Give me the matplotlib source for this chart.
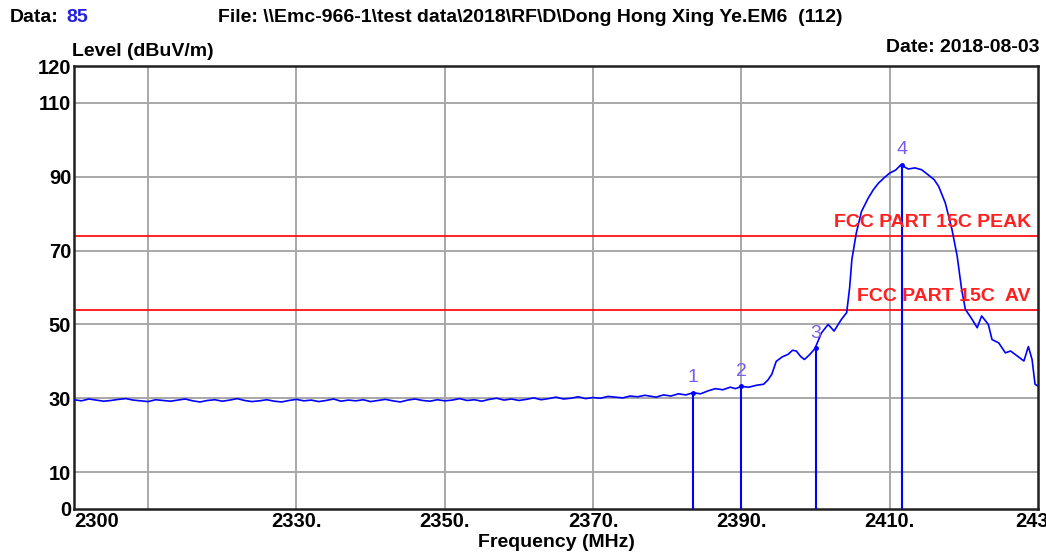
import numpy as np
import matplotlib
matplotlib.use("Agg")
import matplotlib.pyplot as plt

# ---------------- data ----------------
noise_freq = list(range(2300, 2378))
noise_level = [
    29.6, 29.3, 29.8, 29.5, 29.2, 29.4, 29.7, 29.9, 29.5, 29.3,
    29.1, 29.6, 29.4, 29.2, 29.5, 29.8, 29.3, 29.0, 29.4, 29.6,
    29.2, 29.5, 29.9, 29.4, 29.1, 29.3, 29.6, 29.2, 29.0, 29.4,
    29.7, 29.3, 29.5, 29.1, 29.4, 29.8, 29.2, 29.5, 29.3, 29.6,
    29.1, 29.4, 29.7, 29.3, 29.0, 29.5, 29.8, 29.4, 29.2, 29.6,
    29.3, 29.5, 29.9, 29.4, 29.6, 29.2, 29.7, 30.0, 29.5, 29.8,
    29.4, 29.7, 30.1, 29.6, 29.9, 30.3, 29.8, 30.0, 30.4, 29.9,
    30.2, 30.0, 30.5, 30.3, 30.1, 30.6, 30.4, 30.8,
]
signal_freq = [
    2378.5, 2379.5, 2380.5, 2381.5, 2382.5, 2383.5, 2384.5, 2385.5,
    2386.5, 2387.5, 2388.5, 2389.2, 2390.0, 2391.0, 2392.0, 2393.0,
    2393.6, 2394.1, 2394.7, 2395.5, 2396.3, 2396.9, 2397.4, 2398.0,
    2398.5, 2399.2, 2399.9, 2400.8, 2401.7, 2402.5, 2403.5, 2404.2,
    2404.6, 2404.9, 2405.5, 2406.2, 2407.1, 2407.8, 2408.5, 2409.3,
    2410.0, 2410.8, 2411.5, 2412.5, 2413.4, 2414.3, 2415.2, 2416.0,
    2416.6, 2417.5, 2418.4, 2419.1, 2419.7, 2420.2, 2421.1, 2421.8,
    2422.4, 2423.3, 2423.8, 2424.7, 2425.6, 2426.3, 2426.9, 2428.1,
    2428.7, 2429.2, 2429.6, 2430.0,
]
signal_level = [
    30.3, 30.9, 30.6, 31.2, 30.9, 31.5, 31.2, 32.0,
    32.6, 32.3, 33.0, 32.6, 33.2, 33.0, 33.5, 33.8,
    35.0, 36.5, 40.0, 41.2, 41.9, 43.0, 42.8, 41.3,
    40.5, 41.8, 43.4, 47.7, 50.0, 48.2, 51.4, 53.2,
    60.0, 67.6, 74.8, 80.6, 84.2, 86.5, 88.3, 89.8,
    91.0, 91.8, 93.2, 92.1, 92.4, 91.9, 90.5, 89.2,
    87.4, 82.9, 75.7, 68.5, 59.5, 54.1, 51.4, 49.1,
    52.3, 50.0, 45.9, 45.0, 42.3, 42.8, 41.9, 40.1,
    44.0, 40.5, 33.8, 33.3,
]
marker_ids = ["1", "2", "3", "4"]
marker_freq = [2383.5, 2390.0, 2400.0, 2411.6]
marker_level = [31.5, 33.2, 43.5, 93.2]

limit_names = ["FCC PART 15C PEAK", "FCC PART 15C  AV"]
limit_levels = [74, 54]

x_ticks = [2300, 2330, 2350, 2370, 2390, 2410, 2430]
x_tick_labels = ["2300", "2330.", "2350.", "2370.", "2390.", "2410.", "2430"]
x_grid = [2310, 2330, 2350, 2370, 2390, 2410]
y_ticks = [0, 10, 30, 50, 70, 90, 110, 120]
y_grid = [10, 30, 50, 70, 90, 110]

# ---------------- figure ----------------
plt.rcParams['font.family'] = ['Liberation Sans', 'DejaVu Sans']
W, H = 1046, 560
fig = plt.figure(figsize=(W / 100, H / 100), dpi=100)
ax = fig.add_axes([74 / W, 1 - 509 / H, (1038 - 74) / W, (509 - 66) / H])

freq = np.array(noise_freq + signal_freq, dtype=float)
level = np.array(noise_level + signal_level, dtype=float)

ax.set_xlim(2300, 2430)
ax.set_ylim(0, 120)

for g in x_grid:
    ax.axvline(g, color='#a8a8a8', lw=1.4, zorder=1)
for g in y_grid:
    ax.axhline(g, color='#a8a8a8', lw=1.4, zorder=1)

for name, lv in zip(limit_names, limit_levels):
    ax.axhline(lv, color='#ff1010', lw=1.3, zorder=2)
    ax.text(2429.05, lv + 1.3, name, color='#ff2020', fontsize=14,
            fontweight='bold', ha='right', va='bottom', zorder=4)

ax.plot(freq, level, color='#0000ff', lw=1.2, zorder=3)

for mid, mf, ml in zip(marker_ids, marker_freq, marker_level):
    ax.plot([mf, mf], [0, ml], color='#0000ff', lw=1.5, zorder=3)
    ax.plot([mf], [ml], marker='o', ms=2.5, color='#0000ff', zorder=3)
    ax.text(mf, ml + 1.8, mid, color='#7a5cf0', fontsize=14,
            ha='center', va='bottom', zorder=4)

ax.set_xticks(x_ticks)
ax.set_xticklabels(x_tick_labels, fontsize=14.5, fontweight='bold')
ax.set_yticks(y_ticks)
ax.set_yticklabels([str(v) for v in y_ticks], fontsize=14.5, fontweight='bold')
ax.tick_params(axis='both', length=0)
ax.tick_params(axis='x', pad=2)
ax.tick_params(axis='y', pad=2)
xl = ax.get_xticklabels()
xl[0].set_horizontalalignment('left')

for s in ax.spines.values():
    s.set_color('#202020')
    s.set_linewidth(1.8)

ax.set_xlabel("Frequency (MHz)", fontsize=14, fontweight='bold', labelpad=2)

# header texts
def ftext(x, y, s, **kw):
    fig.text(x / W, 1 - y / H, s, **kw)

ftext(10, 17, "Data:", fontsize=14, fontweight='bold', va='center', ha='left')
ftext(66, 17, "85", fontsize=14, fontweight='bold', va='center', ha='left', color='#2020e0')
ftext(218, 17, "File: \\\\Emc-966-1\\test data\\2018\\RF\\D\\Dong Hong Xing Ye.EM6  (112)",
      fontsize=14, fontweight='bold', va='center', ha='left')
ftext(72, 51, "Level (dBuV/m)", fontsize=14, fontweight='bold', va='center', ha='left')
ftext(1040, 48, "Date: 2018-08-03", fontsize=14, fontweight='bold', va='center', ha='right')

fig.savefig("out.png", dpi=100)
